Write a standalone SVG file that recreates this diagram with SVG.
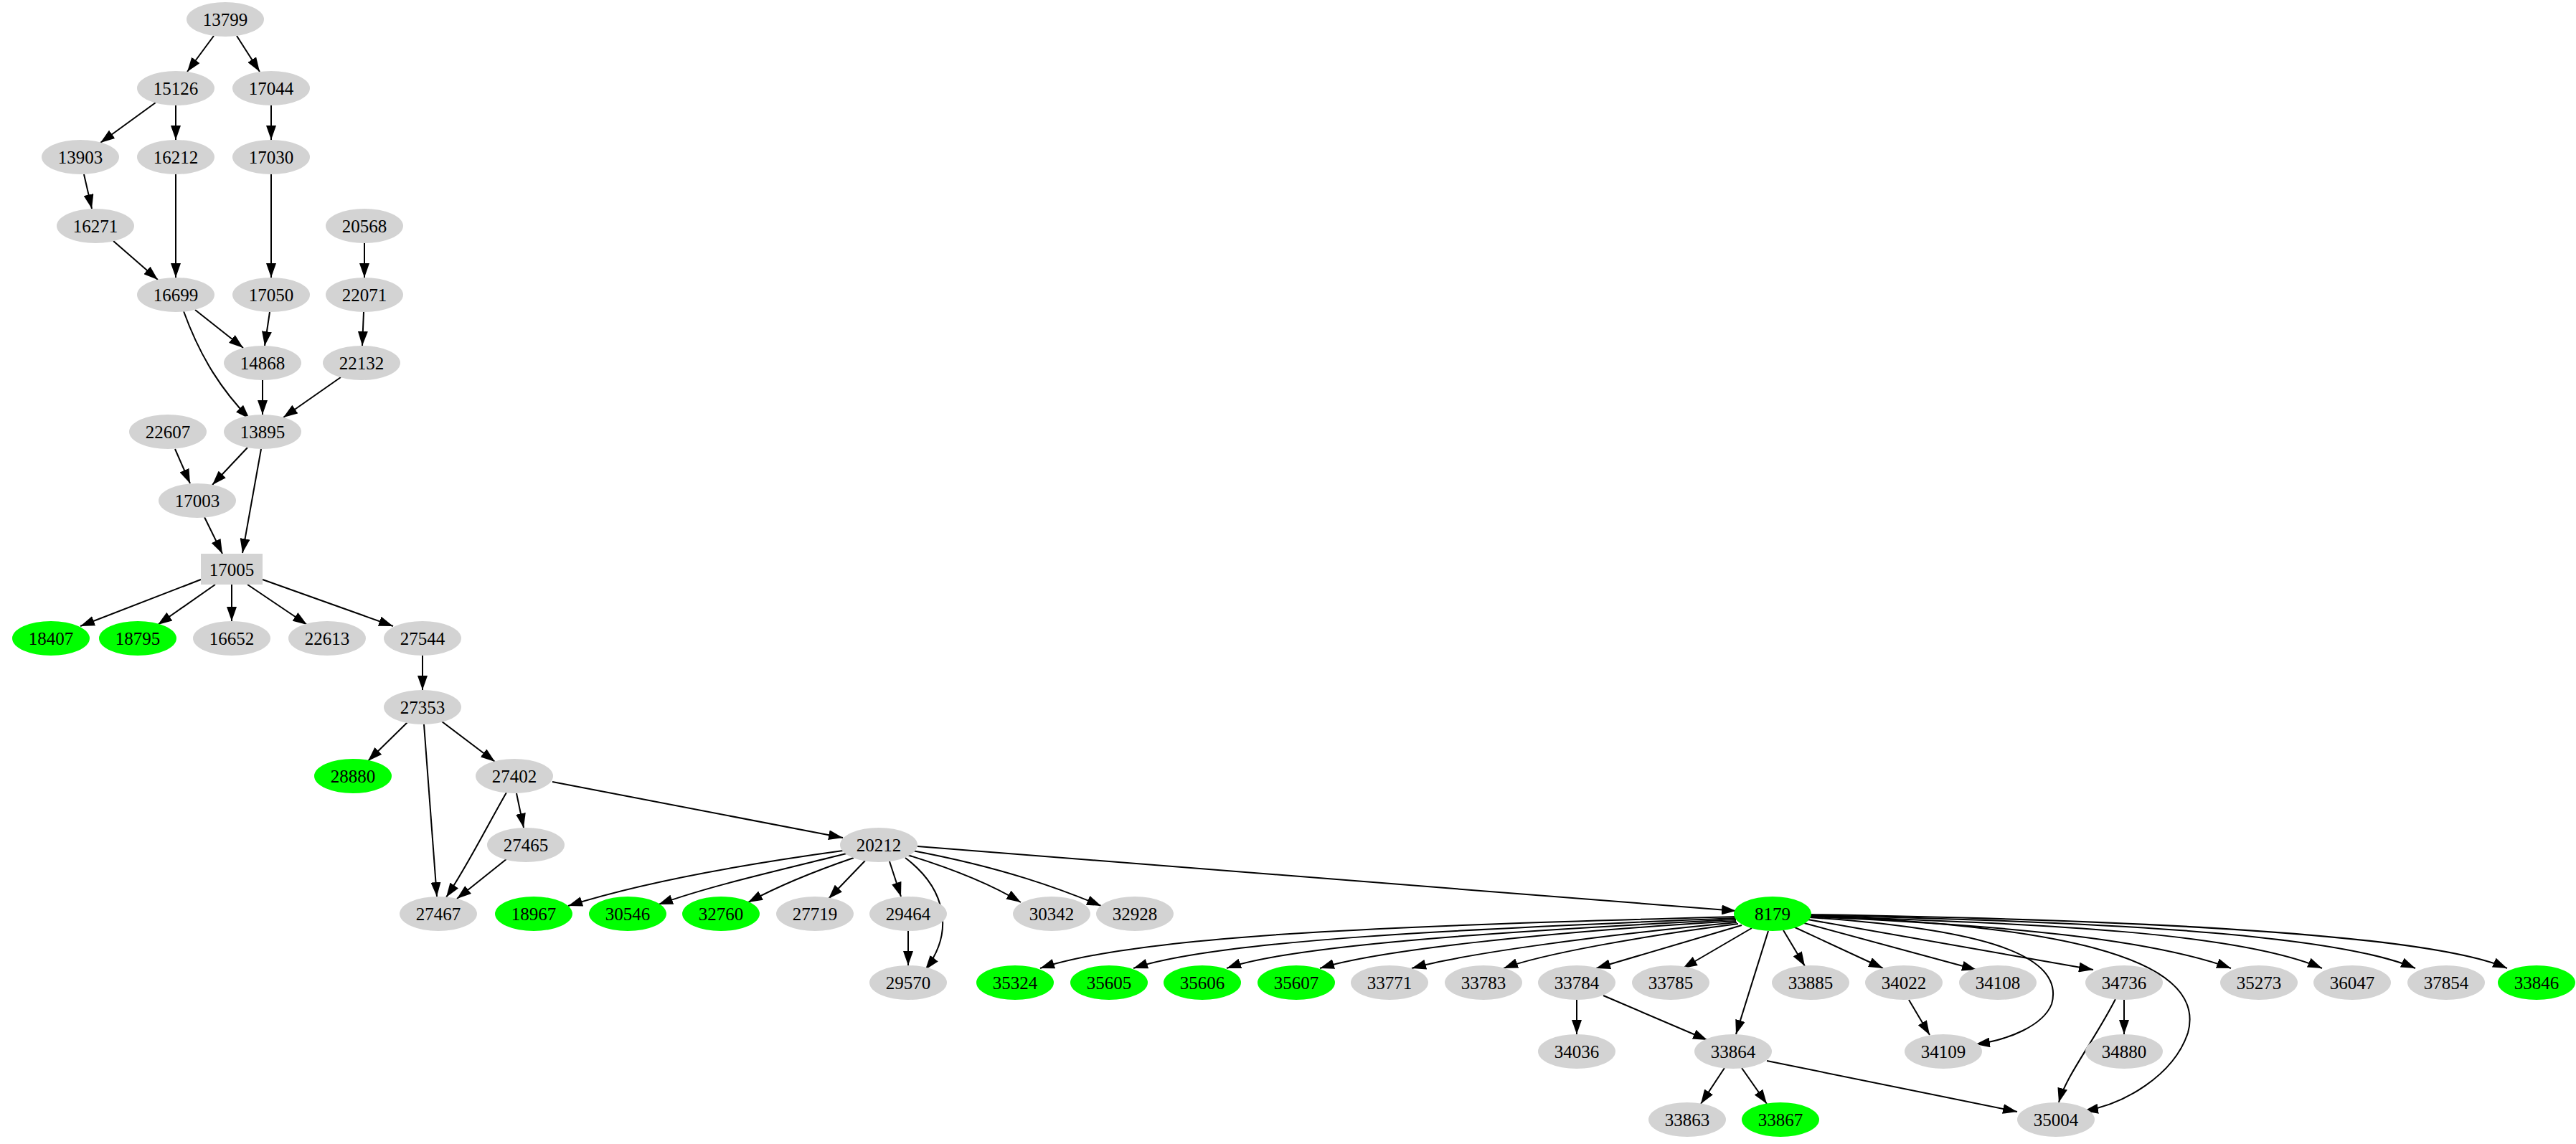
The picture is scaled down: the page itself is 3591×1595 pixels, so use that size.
<svg xmlns="http://www.w3.org/2000/svg" width="3591" height="1595" viewBox="0 0 3591 1595">
<style>
.e path{fill:none;stroke:#000;stroke-width:2;marker-end:url(#a)}
.n ellipse{fill:#d3d3d3}
.g ellipse{fill:#00ff00}
text{font-family:"Liberation Serif","DejaVu Serif",serif;font-size:25px;text-anchor:middle;dominant-baseline:central;fill:#000}
</style>
<defs><marker id="a" markerUnits="userSpaceOnUse" markerWidth="20" markerHeight="14" refX="20" refY="7" orient="auto"><path d="M0,0 L20,7 L0,14 z" fill="#000"/></marker></defs>
<rect width="3591" height="1595" fill="#fff"/>
<g id="edges" class="e">
<path d="M298,50 L261,100"/><path d="M330,50 L362,100"/>
<path d="M217,143 L140,199"/><path d="M245,147 L245,195"/><path d="M378,147 L378,195"/>
<path d="M117,243 L128,291"/><path d="M245,243 L245,387"/><path d="M378,243 L378,387"/>
<path d="M158,336 L220,390"/><path d="M508,339 L508,387"/>
<path d="M272,432 L339,485"/><path d="M256,434 C280,500 310,545 348,584"/>
<path d="M376,435 L369,482"/><path d="M507,435 L505,482"/>
<path d="M366,530 L366,578"/><path d="M475,526 L395,582"/>
<path d="M244,626 L265,674"/><path d="M345,624 L296,676"/>
<path d="M364,626 L338,771"/><path d="M285,721 L310,772"/>
<path d="M280,808 L112,873"/><path d="M300,815 L220,871"/><path d="M323,815 L323,866"/>
<path d="M345,815 L428,871"/><path d="M366,808 L548,873"/>
<path d="M589,914 L589,962"/>
<path d="M568,1007 L513,1061"/><path d="M616,1006 L690,1062"/><path d="M591,1010 L609,1250"/>
<path d="M706,1105 C680,1150 650,1210 622,1251"/><path d="M720,1106 L730,1154"/>
<path d="M770,1090 L1175,1168"/><path d="M707,1197 L637,1253"/>
<path d="M1175,1186 C1000,1210 880,1235 792,1263"/>
<path d="M1180,1190 C1080,1215 990,1235 918,1261"/>
<path d="M1190,1196 C1120,1220 1080,1238 1043,1258"/>
<path d="M1206,1200 L1155,1253"/><path d="M1240,1201 L1256,1250"/>
<path d="M1262,1196 C1320,1240 1330,1300 1290,1352"/>
<path d="M1265,1192 C1340,1215 1390,1238 1423,1258"/>
<path d="M1272,1186 C1400,1210 1480,1240 1535,1263"/>
<path d="M1279,1180 L2420,1270"/>
<path d="M1266,1298 L1266,1346"/>
<path d="M2420,1278 C2000,1290 1600,1300 1450,1350"/>
<path d="M2420,1280 C2050,1295 1700,1310 1580,1350"/>
<path d="M2420,1282 C2100,1298 1800,1318 1710,1350"/>
<path d="M2420,1284 C2150,1300 1920,1325 1840,1350"/>
<path d="M2421,1286 C2220,1305 2040,1330 1968,1350"/>
<path d="M2423,1288 C2290,1305 2150,1330 2096,1350"/>
<path d="M2428,1290 L2225,1350"/><path d="M2442,1294 L2346,1350"/>
<path d="M2465,1298 L2420,1442"/><path d="M2486,1297 L2516,1347"/>
<path d="M2500,1292 L2625,1350"/><path d="M2515,1287 L2755,1352"/>
<path d="M2522,1279 C2760,1295 2880,1330 2860,1400 C2848,1430 2800,1450 2754,1456"/>
<path d="M2520,1282 L2918,1352"/>
<path d="M2520,1276 C2850,1290 3080,1330 3050,1440 C3030,1500 2960,1540 2905,1549"/>
<path d="M2521,1278 C2800,1290 3000,1310 3110,1350"/>
<path d="M2521,1277 C2850,1288 3120,1300 3237,1350"/>
<path d="M2521,1276 C2900,1284 3250,1300 3367,1350"/>
<path d="M2521,1275 C2950,1282 3380,1300 3495,1350"/>
<path d="M2198,1394 L2198,1442"/><path d="M2235,1388 L2380,1450"/>
<path d="M2661,1394 L2690,1443"/><path d="M2961,1394 L2961,1442"/>
<path d="M2949,1393 C2920,1450 2880,1500 2870,1537"/>
<path d="M2404,1489 L2371,1539"/><path d="M2428,1489 L2463,1539"/><path d="M2463,1479 L2812,1550"/>
</g>
<g id="n13799" class="n"><ellipse cx="314" cy="27" rx="54" ry="24"/><text x="314" y="27">13799</text></g>
<g id="n15126" class="n"><ellipse cx="245" cy="123" rx="54" ry="24"/><text x="245" y="123">15126</text></g>
<g id="n17044" class="n"><ellipse cx="378" cy="123" rx="54" ry="24"/><text x="378" y="123">17044</text></g>
<g id="n13903" class="n"><ellipse cx="112" cy="219" rx="54" ry="24"/><text x="112" y="219">13903</text></g>
<g id="n16212" class="n"><ellipse cx="245" cy="219" rx="54" ry="24"/><text x="245" y="219">16212</text></g>
<g id="n17030" class="n"><ellipse cx="378" cy="219" rx="54" ry="24"/><text x="378" y="219">17030</text></g>
<g id="n16271" class="n"><ellipse cx="133" cy="315" rx="54" ry="24"/><text x="133" y="315">16271</text></g>
<g id="n20568" class="n"><ellipse cx="508" cy="315" rx="54" ry="24"/><text x="508" y="315">20568</text></g>
<g id="n16699" class="n"><ellipse cx="245" cy="411" rx="54" ry="24"/><text x="245" y="411">16699</text></g>
<g id="n17050" class="n"><ellipse cx="378" cy="411" rx="54" ry="24"/><text x="378" y="411">17050</text></g>
<g id="n22071" class="n"><ellipse cx="508" cy="411" rx="54" ry="24"/><text x="508" y="411">22071</text></g>
<g id="n14868" class="n"><ellipse cx="366" cy="506" rx="54" ry="24"/><text x="366" y="506">14868</text></g>
<g id="n22132" class="n"><ellipse cx="504" cy="506" rx="54" ry="24"/><text x="504" y="506">22132</text></g>
<g id="n22607" class="n"><ellipse cx="234" cy="602" rx="54" ry="24"/><text x="234" y="602">22607</text></g>
<g id="n13895" class="n"><ellipse cx="366" cy="602" rx="54" ry="24"/><text x="366" y="602">13895</text></g>
<g id="n17003" class="n"><ellipse cx="275" cy="698" rx="54" ry="24"/><text x="275" y="698">17003</text></g>
<g id="n17005" class="n"><rect x="280" y="772" width="86" height="43" fill="#d3d3d3"/><text x="323" y="794">17005</text></g>
<g id="n18407" class="g"><ellipse cx="71" cy="890" rx="54" ry="24"/><text x="71" y="890">18407</text></g>
<g id="n18795" class="g"><ellipse cx="192" cy="890" rx="54" ry="24"/><text x="192" y="890">18795</text></g>
<g id="n16652" class="n"><ellipse cx="323" cy="890" rx="54" ry="24"/><text x="323" y="890">16652</text></g>
<g id="n22613" class="n"><ellipse cx="456" cy="890" rx="54" ry="24"/><text x="456" y="890">22613</text></g>
<g id="n27544" class="n"><ellipse cx="589" cy="890" rx="54" ry="24"/><text x="589" y="890">27544</text></g>
<g id="n27353" class="n"><ellipse cx="589" cy="986" rx="54" ry="24"/><text x="589" y="986">27353</text></g>
<g id="n28880" class="g"><ellipse cx="492" cy="1082" rx="54" ry="24"/><text x="492" y="1082">28880</text></g>
<g id="n27402" class="n"><ellipse cx="717" cy="1082" rx="54" ry="24"/><text x="717" y="1082">27402</text></g>
<g id="n27465" class="n"><ellipse cx="733" cy="1178" rx="54" ry="24"/><text x="733" y="1178">27465</text></g>
<g id="n20212" class="n"><ellipse cx="1225" cy="1178" rx="54" ry="24"/><text x="1225" y="1178">20212</text></g>
<g id="n27467" class="n"><ellipse cx="611" cy="1274" rx="54" ry="24"/><text x="611" y="1274">27467</text></g>
<g id="n18967" class="g"><ellipse cx="744" cy="1274" rx="54" ry="24"/><text x="744" y="1274">18967</text></g>
<g id="n30546" class="g"><ellipse cx="875" cy="1274" rx="54" ry="24"/><text x="875" y="1274">30546</text></g>
<g id="n32760" class="g"><ellipse cx="1005" cy="1274" rx="54" ry="24"/><text x="1005" y="1274">32760</text></g>
<g id="n27719" class="n"><ellipse cx="1136" cy="1274" rx="54" ry="24"/><text x="1136" y="1274">27719</text></g>
<g id="n29464" class="n"><ellipse cx="1266" cy="1274" rx="54" ry="24"/><text x="1266" y="1274">29464</text></g>
<g id="n30342" class="n"><ellipse cx="1466" cy="1274" rx="54" ry="24"/><text x="1466" y="1274">30342</text></g>
<g id="n32928" class="n"><ellipse cx="1582" cy="1274" rx="54" ry="24"/><text x="1582" y="1274">32928</text></g>
<g id="n8179" class="g"><ellipse cx="2471" cy="1274" rx="54" ry="24"/><text x="2471" y="1274">8179</text></g>
<g id="n29570" class="n"><ellipse cx="1266" cy="1370" rx="54" ry="24"/><text x="1266" y="1370">29570</text></g>
<g id="n35324" class="g"><ellipse cx="1415" cy="1370" rx="54" ry="24"/><text x="1415" y="1370">35324</text></g>
<g id="n35605" class="g"><ellipse cx="1546" cy="1370" rx="54" ry="24"/><text x="1546" y="1370">35605</text></g>
<g id="n35606" class="g"><ellipse cx="1676" cy="1370" rx="54" ry="24"/><text x="1676" y="1370">35606</text></g>
<g id="n35607" class="g"><ellipse cx="1807" cy="1370" rx="54" ry="24"/><text x="1807" y="1370">35607</text></g>
<g id="n33771" class="n"><ellipse cx="1937" cy="1370" rx="54" ry="24"/><text x="1937" y="1370">33771</text></g>
<g id="n33783" class="n"><ellipse cx="2068" cy="1370" rx="54" ry="24"/><text x="2068" y="1370">33783</text></g>
<g id="n33784" class="n"><ellipse cx="2198" cy="1370" rx="54" ry="24"/><text x="2198" y="1370">33784</text></g>
<g id="n33785" class="n"><ellipse cx="2329" cy="1370" rx="54" ry="24"/><text x="2329" y="1370">33785</text></g>
<g id="n33885" class="n"><ellipse cx="2524" cy="1370" rx="54" ry="24"/><text x="2524" y="1370">33885</text></g>
<g id="n34022" class="n"><ellipse cx="2654" cy="1370" rx="54" ry="24"/><text x="2654" y="1370">34022</text></g>
<g id="n34108" class="n"><ellipse cx="2785" cy="1370" rx="54" ry="24"/><text x="2785" y="1370">34108</text></g>
<g id="n34736" class="n"><ellipse cx="2961" cy="1370" rx="54" ry="24"/><text x="2961" y="1370">34736</text></g>
<g id="n35273" class="n"><ellipse cx="3149" cy="1370" rx="54" ry="24"/><text x="3149" y="1370">35273</text></g>
<g id="n36047" class="n"><ellipse cx="3279" cy="1370" rx="54" ry="24"/><text x="3279" y="1370">36047</text></g>
<g id="n37854" class="n"><ellipse cx="3410" cy="1370" rx="54" ry="24"/><text x="3410" y="1370">37854</text></g>
<g id="n33846" class="g"><ellipse cx="3536" cy="1370" rx="54" ry="24"/><text x="3536" y="1370">33846</text></g>
<g id="n34036" class="n"><ellipse cx="2198" cy="1466" rx="54" ry="24"/><text x="2198" y="1466">34036</text></g>
<g id="n33864" class="n"><ellipse cx="2416" cy="1466" rx="54" ry="24"/><text x="2416" y="1466">33864</text></g>
<g id="n34109" class="n"><ellipse cx="2709" cy="1466" rx="54" ry="24"/><text x="2709" y="1466">34109</text></g>
<g id="n34880" class="n"><ellipse cx="2961" cy="1466" rx="54" ry="24"/><text x="2961" y="1466">34880</text></g>
<g id="n33863" class="n"><ellipse cx="2352" cy="1561" rx="54" ry="24"/><text x="2352" y="1561">33863</text></g>
<g id="n33867" class="g"><ellipse cx="2482" cy="1561" rx="54" ry="24"/><text x="2482" y="1561">33867</text></g>
<g id="n35004" class="n"><ellipse cx="2866" cy="1561" rx="54" ry="24"/><text x="2866" y="1561">35004</text></g>
</svg>
